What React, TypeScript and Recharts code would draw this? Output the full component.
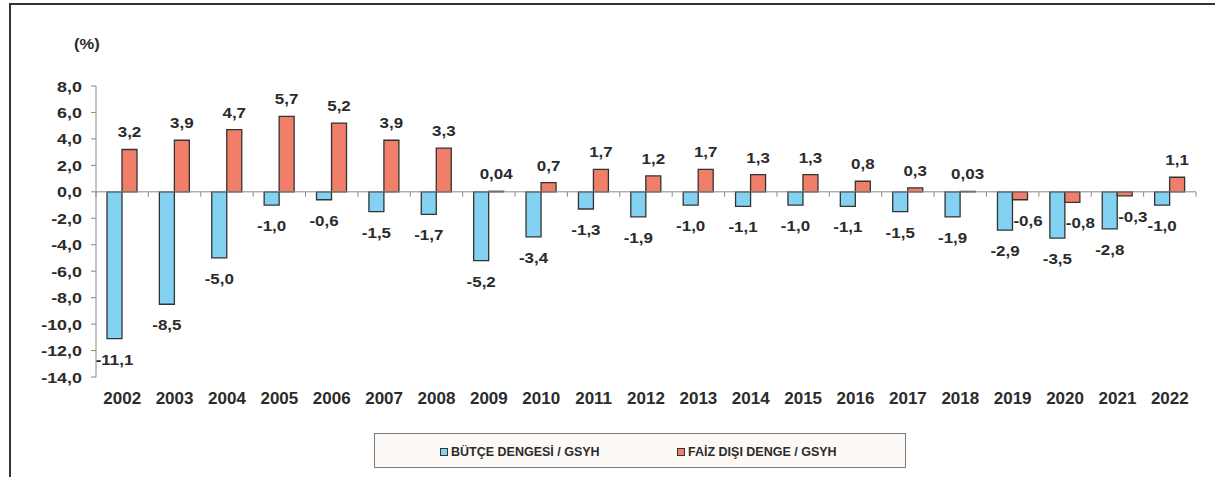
import { BarChart, Bar, XAxis, YAxis, ReferenceLine, LabelList } from "recharts";

const years = [
  "2002", "2003", "2004", "2005", "2006", "2007", "2008", "2009", "2010", "2011", "2012",
  "2013", "2014", "2015", "2016", "2017", "2018", "2019", "2020", "2021", "2022",
];
const butceDengesi = [
  -11.1, -8.5, -5.0, -1.0, -0.6, -1.5, -1.7, -5.2, -3.4, -1.3, -1.9,
  -1.0, -1.1, -1.0, -1.1, -1.5, -1.9, -2.9, -3.5, -2.8, -1.0,
];
const faizDisiDenge = [
  3.2, 3.9, 4.7, 5.7, 5.2, 3.9, 3.3, 0.04, 0.7, 1.7, 1.2,
  1.7, 1.3, 1.3, 0.8, 0.3, 0.03, -0.6, -0.8, -0.3, 1.1,
];
const yTicks = [8, 6, 4, 2, 0, -2, -4, -6, -8, -10, -12, -14];

const BLUE = "#84D2F2";
const RED = "#F07E69";
const INK = "#2b2b2b";
const FONT = "'Liberation Sans', Arial, sans-serif";

const data = years.map((year, i) => ({
  year,
  butce: butceDengesi[i],
  faiz: faizDisiDenge[i],
}));

const fmt = (v: number) =>
  (v !== 0 && Math.abs(v) < 0.1 ? v.toFixed(2) : v.toFixed(1)).replace(".", ",");

// excel text is a bit wider than plain arial, so stretch it
const SText = ({ x, y, sx = 1, size, anchor = "middle", children }: any) => (
  <text
    transform={`translate(${x},${y}) scale(${sx},1)`}
    textAnchor={anchor}
    fontSize={size}
    fontWeight="bold"
    fontFamily={FONT}
    fill={INK}
  >
    {children}
  </text>
);

const makeLabel = (dx: number) => (props: any) => {
  const { x, y, width, height, value } = props;
  const top = Math.min(y, y + height);
  const bottom = Math.max(y, y + height);
  const cx = x + width / 2;
  if (value >= 0) {
    return <SText x={cx} y={top - 12} sx={1.13} size={15}>{fmt(value)}</SText>;
  }
  return <SText x={cx + dx} y={bottom + 26} sx={1.13} size={15}>{fmt(value)}</SText>;
};

const YTick = ({ x, y, payload }: any) => (
  <SText x={x} y={y + 5.5} sx={1.28} size={14} anchor="end">
    {fmt(payload.value)}
  </SText>
);

const XTick = ({ x, payload }: any) => (
  <SText x={x} y={404} size={17}>
    {payload.value}
  </SText>
);

const ZeroLine = ({ x1, y1, x2, y2 }: any) => {
  const n = years.length;
  const step = (x2 - x1) / n;
  return (
    <g>
      <line x1={x1} y1={y1} x2={x2} y2={y2} stroke="#8a8a8a" strokeWidth={1} />
      {Array.from({ length: n + 1 }, (_, i) => (
        <line key={i} x1={x1 + i * step} y1={y1} x2={x1 + i * step} y2={y1 + 5} stroke="#8a8a8a" strokeWidth={1} />
      ))}
    </g>
  );
};

const LegendBox = () => (
  <div
    style={{
      position: "absolute",
      left: 374,
      top: 433,
      width: 530,
      height: 33,
      background: "#FDF9F6",
      border: "1px solid #7a7a7a",
      display: "flex",
      alignItems: "center",
      fontFamily: FONT,
      fontWeight: "bold",
      fontSize: 12.5,
      color: INK,
    }}
  >
    {[
      { name: "BÜTÇE DENGESİ / GSYH", color: BLUE, left: 65 },
      { name: "FAİZ DIŞI DENGE / GSYH", color: RED, left: 302 },
    ].map((it) => (
      <div key={it.name} style={{ position: "absolute", left: it.left, top: 11, display: "flex", alignItems: "center", whiteSpace: "nowrap" }}>
        <span style={{ display: "inline-block", width: 6, height: 6, background: it.color, border: "1px solid #333", marginRight: 3 }} />
        <span>{it.name}</span>
      </div>
    ))}
  </div>
);

export default function App() {
  return (
    <div style={{ position: "absolute", left: 0, top: 0, width: 1215, height: 477, background: "#fff", overflow: "hidden" }}>
      <div
        style={{
          position: "absolute",
          left: 9,
          top: 3,
          right: -4,
          bottom: -4,
          borderLeft: "2px solid #333",
          borderTop: "2px solid #333",
        }}
      />
      <BarChart
        width={1215}
        height={477}
        data={data}
        margin={{ top: 86, right: 19, left: 36, bottom: 70 }}
        barSize={15}
        barGap={0}
        style={{ position: "absolute", left: 0, top: 0 }}
      >
        <XAxis dataKey="year" height={30} axisLine={false} tickLine={false} tick={<XTick />} interval={0} />
        <YAxis
          width={60}
          domain={[-14, 8]}
          ticks={yTicks}
          interval={0}
          tickSize={5}
          tickMargin={9}
          axisLine={{ stroke: "#8a8a8a" }}
          tickLine={{ stroke: "#8a8a8a" }}
          tick={<YTick />}
          label={{
            content: ({ viewBox }: any) => (
              <SText x={viewBox.x + viewBox.width - 22} y={viewBox.y - 37} sx={1.1} size={15} anchor="start">
                (%)
              </SText>
            ),
          }}
        />
        <ReferenceLine y={0} shape={<ZeroLine />} />
        <Bar dataKey="butce" fill={BLUE} stroke="#333" strokeWidth={1.3} isAnimationActive={false}>
          <LabelList dataKey="butce" content={makeLabel(0)} />
        </Bar>
        <Bar dataKey="faiz" fill={RED} stroke="#333" strokeWidth={1.3} isAnimationActive={false}>
          <LabelList dataKey="faiz" content={makeLabel(8)} />
        </Bar>
      </BarChart>
      <LegendBox />
    </div>
  );
}
